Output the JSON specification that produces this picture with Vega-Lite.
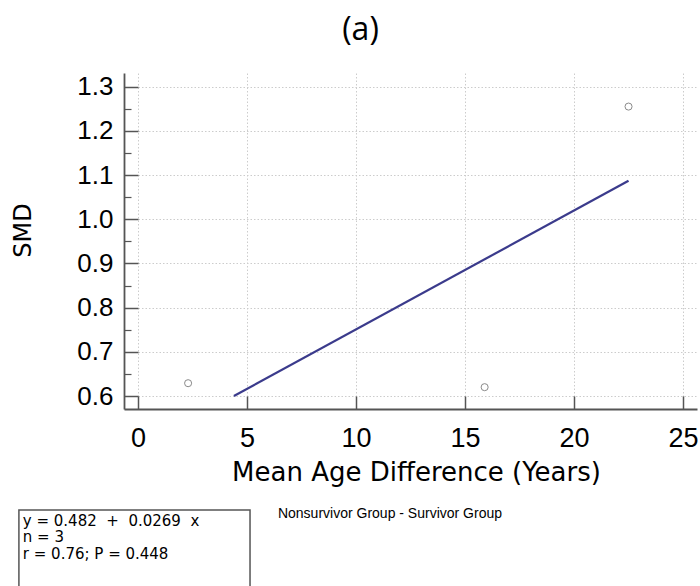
{
  "$schema": "https://vega.github.io/schema/vega-lite/v6.json",
  "autosize": {"type": "none"},
  "padding": {"left": 124, "top": 73, "right": 3, "bottom": 177},
  "width": 573,
  "height": 336,
  "background": "white",
  "title": {
    "text": "(a)",
    "font": "Open Sans",
    "fontSize": 32,
    "fontWeight": "normal",
    "color": "black",
    "anchor": "middle",
    "frame": "group",
    "dx": -50,
    "baseline": "alphabetic",
    "offset": 1
  },
  "datasets": {
    "points": [
      {"age": 2.3, "smd": 0.629},
      {"age": 15.9, "smd": 0.62},
      {"age": 22.5, "smd": 1.255}
    ],
    "fit": [
      {"age": 4.4, "smd": 0.6},
      {"age": 22.5, "smd": 1.087}
    ],
    "stats": [
      {"label": "y = 0.482\u00a0\u00a0+\u00a0\u00a00.0269\u00a0\u00a0x\nn = 3\nr = 0.76; P = 0.448"}
    ],
    "caption": [
      {"label": "Nonsurvivor Group - Survivor Group"}
    ]
  },
  "layer": [
    {
      "data": {"name": "points"},
      "mark": {"type": "point", "shape": "circle", "filled": false, "size": 50, "stroke": "#8a8a8a", "strokeWidth": 1, "opacity": 1},
      "encoding": {
        "x": {
          "field": "age", "type": "quantitative",
          "scale": {"domain": [-0.64, 25.64], "nice": false, "zero": false},
          "axis": {
            "values": [0, 5, 10, 15, 20, 25],
            "title": "Mean Age Difference (Years)",
            "titleFont": "DejaVu Sans", "titleFontSize": 26, "titleFontWeight": "normal", "titleColor": "black",
            "titleBaseline": "alphabetic", "titleX": 292, "titleY": 71, "titleAlign": "center",
            "labelFont": "Liberation Sans", "labelFontSize": 27, "labelColor": "black",
            "labelPadding": 29, "labelBaseline": "top", "labelFlush": false,
            "tickSize": -13, "tickColor": "#555555", "tickWidth": 1.5,
            "domainColor": "#555555", "domainWidth": 1.8,
            "grid": true, "gridColor": "#cccccc", "gridDash": [1.5, 2], "gridWidth": 1
          }
        },
        "y": {
          "field": "smd", "type": "quantitative",
          "scale": {"domain": [0.5706, 1.331], "nice": false, "zero": false},
          "axis": {
            "orient": "left",
            "values": [0.6, 0.7, 0.8, 0.9, 1.0, 1.1, 1.2, 1.3],
            "format": ".1f",
            "title": "SMD",
            "titleFont": "DejaVu Sans", "titleFontSize": 24, "titleFontWeight": "normal", "titleColor": "black",
            "titleAngle": -90, "titleBaseline": "middle", "titleAlign": "center", "titleX": -101, "titleY": 157,
            "labelFont": "Liberation Sans", "labelFontSize": 26, "labelColor": "black",
            "labelPadding": 25, "labelFlush": false,
            "tickSize": -14, "tickColor": "#555555", "tickWidth": 1.5,
            "domainColor": "#555555", "domainWidth": 1.8,
            "grid": true, "gridColor": "#cccccc", "gridDash": [1.5, 2], "gridWidth": 1
          }
        }
      }
    },
    {
      "data": {"name": "fit"},
      "mark": {"type": "line", "color": "#3b3b8c", "strokeWidth": 2.2},
      "encoding": {
        "x": {"field": "age", "type": "quantitative"},
        "y": {
          "field": "smd", "type": "quantitative",
          "axis": {
            "orient": "left",
            "values": [0.65, 0.75, 0.85, 0.95, 1.05, 1.15, 1.25],
            "labels": false, "domain": false, "grid": false, "title": null,
            "tickSize": -7, "tickColor": "#555555", "tickWidth": 1.2
          }
        }
      }
    },
    {
      "data": {"name": "stats"},
      "mark": {"type": "text", "align": "left", "baseline": "top", "font": "DejaVu Sans", "fontSize": 15, "lineHeight": 16.5, "color": "black", "lineBreak": "\n"},
      "encoding": {
        "x": {"datum": -5.28, "type": "quantitative"},
        "y": {"datum": 0.333, "type": "quantitative", "axis": null},
        "text": {"field": "label"}
      }
    },
    {
      "data": {"name": "stats"},
      "mark": {"type": "rect", "filled": false, "stroke": "#555555", "strokeWidth": 1.5},
      "encoding": {
        "x": {"datum": -5.46, "type": "quantitative"},
        "x2": {"datum": 5.14},
        "y": {"datum": 0.342, "type": "quantitative", "axis": null},
        "y2": {"datum": 0.05}
      }
    },
    {
      "data": {"name": "caption"},
      "mark": {"type": "text", "align": "left", "baseline": "middle", "font": "Liberation Sans", "fontSize": 14, "color": "black"},
      "encoding": {
        "x": {"datum": 6.42, "type": "quantitative"},
        "y": {"datum": 0.333, "type": "quantitative", "axis": null},
        "text": {"field": "label"}
      }
    }
  ],
  "resolve": {"axis": {"y": "independent"}},
  "config": {
    "view": {"stroke": null},
    "axis": {"ticks": true}
  }
}
